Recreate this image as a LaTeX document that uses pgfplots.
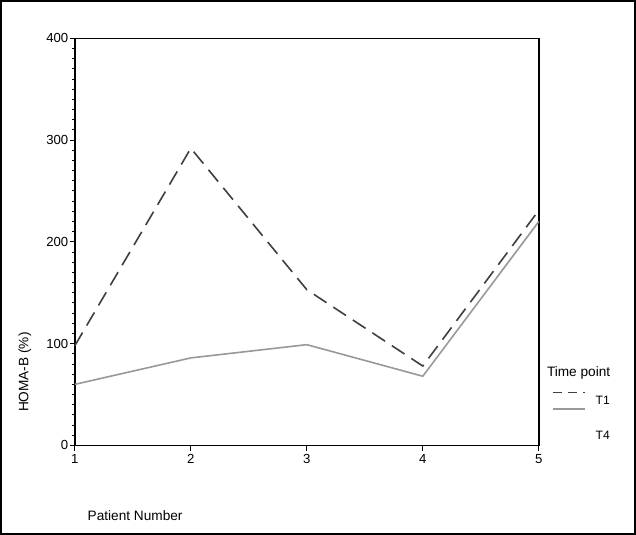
\documentclass[border=0pt]{standalone}
\usepackage{fontspec}
\setmainfont{Liberation Sans}
\usepackage{pgfplots}
\pgfplotsset{compat=1.18}
\begin{document}
\begin{tikzpicture}
\begin{axis}[
  scale only axis, width=457bp, height=401bp,
  xmin=1, xmax=5, ymin=0, ymax=400,
  xtick={1,2,3,4,5}, ytick={0,100,200,300,400},
  minor y tick num=9,
  tick align=outside, tick pos=left,
  major tick length=5bp, minor tick length=3bp,
  axis line style={line width=1.5pt}, every tick/.style={black,line width=1pt},
  ticklabel style={font=\fontsize{13}{15}\selectfont},
  /pgf/number format/assume math mode=true,
  yticklabel style={xshift=2bp},
  clip=false,
]
\addplot[black!75, dash pattern=on 15bp off 8bp, line width=1.6pt] coordinates {(1,98) (2,292) (3,153) (4,78) (5,231)};
\addplot[black!40, line width=1.6pt] coordinates {(1,60) (2,86) (3,99) (4,68) (5,220)};
\draw[line width=1.5pt] (rel axis cs:-0.1597,-0.217) rectangle (rel axis cs:1.2079,1.0923);
\node[rotate=90, font=\fontsize{13.5}{16}\selectfont] at (rel axis cs:-0.108,0.18) {HOMA-B (\%)};
\node[anchor=west, font=\fontsize{13.5}{16}\selectfont] at (rel axis cs:0.02,-0.172) {Patient Number};
\node[anchor=west, font=\fontsize{13.5}{16}\selectfont] at (rel axis cs:1.01,0.177) {Time point};
\draw[black!75, line width=1.6pt, dash pattern=on 9bp off 6bp] (rel axis cs:1.03,0.13) -- (rel axis cs:1.1,0.13);
\node[anchor=west, font=\fontsize{12}{14}\selectfont] at (rel axis cs:1.115,0.112) {T1};
\draw[black!40, line width=1.6pt] (rel axis cs:1.03,0.09) -- (rel axis cs:1.1,0.09);
\node[anchor=west, font=\fontsize{12}{14}\selectfont] at (rel axis cs:1.115,0.025) {T4};
\end{axis}
\end{tikzpicture}
\end{document}
